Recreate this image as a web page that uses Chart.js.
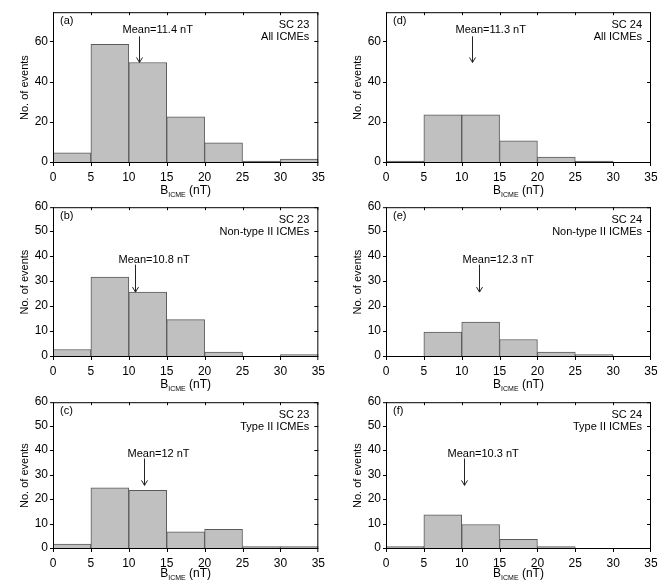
<!DOCTYPE html>
<html>
<head>
<meta charset="utf-8">
<script src="https://cdn.jsdelivr.net/npm/chart.js@4.4.0/dist/chart.umd.min.js"></script>
<style>
    body { margin: 0; background: #fff; }
    #wrap { position: relative; width: 665px; height: 584px; overflow: hidden; }
    canvas { position: absolute; }
</style>
</head>
<body>
<div id="wrap"></div>
<script>
// bins of 5 nT, drawn at their centres
var binCenters = [2.5, 7.5, 12.5, 17.5, 22.5, 27.5, 32.5];
var xTicks = [0, 5, 10, 15, 20, 25, 30, 35];
var yTicksTop = [0, 20, 40, 60];
var yTicksBottom = [0, 10, 20, 30, 40, 50, 60];

// number of events per bin
var sc23All = [5, 59, 50, 23, 10, 1, 2];
var sc23NonTypeII = [3, 32, 26, 15, 2, 0, 1];
var sc23TypeII = [2, 25, 24, 7, 8, 1, 1];
var sc24All = [1, 24, 24, 11, 3, 1, 0];
var sc24NonTypeII = [0, 10, 14, 7, 2, 1, 0];
var sc24TypeII = [1, 14, 10, 4, 1, 0, 0];

var panelLetters = ['(a)', '(b)', '(c)', '(d)', '(e)', '(f)'];
var cycleLabels = ['SC 23', 'SC 23', 'SC 23', 'SC 24', 'SC 24', 'SC 24'];
var groupLabels = ['All ICMEs', 'Non-type II ICMEs', 'Type II ICMEs', 'All ICMEs', 'Non-type II ICMEs', 'Type II ICMEs'];
var means = [11.4, 10.8, 12, 11.3, 12.3, 10.3];
var meanLabels = ['Mean=11.4 nT', 'Mean=10.8 nT', 'Mean=12 nT', 'Mean=11.3 nT', 'Mean=12.3 nT', 'Mean=10.3 nT'];

var series = [sc23All, sc23NonTypeII, sc23TypeII, sc24All, sc24NonTypeII, sc24TypeII];

// canvas boxes and plot areas (page pixels); canvases overlap a little so titles are not clipped
var boxes = [
    { cx: 0, cy: 0, cw: 332, ch: 204, l: 53, t: 12, r: 319, b: 163 },
    { cx: 0, cy: 195, cw: 332, ch: 200, l: 53, t: 205, r: 319, b: 357 },
    { cx: 0, cy: 390, cw: 332, ch: 194, l: 53, t: 398, r: 319, b: 549 },
    { cx: 333, cy: 0, cw: 332, ch: 204, l: 386, t: 12, r: 651, b: 163 },
    { cx: 333, cy: 195, cw: 332, ch: 200, l: 386, t: 205, r: 651, b: 357 },
    { cx: 333, cy: 390, cw: 332, ch: 194, l: 386, t: 398, r: 651, b: 549 }
];

var FONT = "'Liberation Sans', Arial, Helvetica, sans-serif";
Chart.defaults.font.family = FONT;
Chart.defaults.color = '#000';

var decor = {
    id: 'decor',
    afterDraw(chart) {
        var o = chart.options.plugins.decor;
        var ctx = chart.ctx;
        var a = chart.chartArea;
        var xs = chart.scales.x, ys = chart.scales.y;
        ctx.save();

        // frame; ticks point out on left/bottom, in on top/right
        ctx.strokeStyle = '#000';
        ctx.lineWidth = 1;
        ctx.strokeRect(a.left + 0.5, a.top + 0.5, a.right - a.left - 1, a.bottom - a.top - 1);
        ctx.beginPath();
        xTicks.forEach(function (v) {
            var px = Math.round(xs.getPixelForValue(v)) + 0.5;
            px = Math.min(Math.max(px, a.left + 0.5), a.right - 0.5);
            ctx.moveTo(px, a.top); ctx.lineTo(px, a.top + 3);
            ctx.moveTo(px, a.bottom); ctx.lineTo(px, a.bottom + 3);
        });
        o.yTicks.forEach(function (v) {
            var py = Math.round(ys.getPixelForValue(v)) - 0.5;
            py = Math.min(Math.max(py, a.top + 0.5), a.bottom - 0.5);
            ctx.moveTo(a.left, py); ctx.lineTo(a.left - 3, py);
            ctx.moveTo(a.right, py); ctx.lineTo(a.right - 4, py);
        });
        ctx.stroke();

        // labels inside the frame
        ctx.fillStyle = '#000';
        ctx.font = '11px ' + FONT;
        ctx.textBaseline = 'middle';
        ctx.textAlign = 'left';
        ctx.fillText(o.letter, a.left + 7, a.top + 9);
        ctx.textAlign = 'right';
        ctx.fillText(o.cycle, a.right - 9, a.top + 13);
        ctx.fillText(o.group, a.right - 9, a.top + 25);

        // mean label and arrow
        var ax = Math.round(xs.getPixelForValue(o.mean)) + 0.5;
        ctx.textAlign = 'left';
        ctx.fillText(o.meanText, ax - 17, ys.getPixelForValue(o.textY));
        var y0 = ys.getPixelForValue(o.arrowFrom);
        var y1 = ys.getPixelForValue(o.arrowTo);
        ctx.strokeStyle = '#222';
        ctx.beginPath();
        ctx.moveTo(ax, y0); ctx.lineTo(ax, y1);
        ctx.moveTo(ax - 3, y1 - 5); ctx.lineTo(ax, y1); ctx.lineTo(ax + 3, y1 - 5);
        ctx.stroke();

        // x title with subscript
        var cxm = (a.left + a.right) / 2;
        var ty = a.bottom + o.titleDy;
        ctx.textBaseline = 'alphabetic';
        ctx.font = '12px ' + FONT;
        var wB = ctx.measureText('B').width;
        var wP = ctx.measureText(' (nT)').width;
        ctx.font = '7px ' + FONT;
        var wS = ctx.measureText('ICME').width;
        var x0 = cxm - (wB + wS + wP) / 2;
        ctx.textAlign = 'left';
        ctx.font = '12px ' + FONT;
        ctx.fillText('B', x0, ty);
        ctx.font = '7px ' + FONT;
        ctx.fillText('ICME', x0 + wB, ty + 3);
        ctx.font = '12px ' + FONT;
        ctx.fillText(' (nT)', x0 + wB + wS, ty);
        ctx.restore();
    }
};

var wrap = document.getElementById('wrap');

series.forEach(function (vals, i) {
    var bx = boxes[i];
    var top = (i % 3) === 0;
    var yMax = top ? 75 : 60;
    var yTicks = top ? yTicksTop : yTicksBottom;

    var cv = document.createElement('canvas');
    cv.width = bx.cw; cv.height = bx.ch;
    cv.style.left = bx.cx + 'px';
    cv.style.top = bx.cy + 'px';
    wrap.appendChild(cv);

    var yW = bx.l - bx.cx;
    var xH = bx.cy + bx.ch - bx.b;

    new Chart(cv, {
        type: 'bar',
        data: {
            datasets: [{
                data: binCenters.map(function (c, k) { return { x: c, y: vals[k] }; }),
                backgroundColor: '#c0c0c0',
                borderColor: '#5a5a5a',
                borderWidth: 1,
                barPercentage: 1,
                categoryPercentage: 1
            }]
        },
        options: {
            responsive: false,
            animation: false,
            layout: { padding: { left: 0, top: bx.t - bx.cy, right: bx.cx + bx.cw - bx.r, bottom: 0 } },
            plugins: {
                legend: { display: false },
                tooltip: { enabled: false },
                decor: {
                    letter: panelLetters[i],
                    cycle: cycleLabels[i],
                    group: groupLabels[i],
                    mean: means[i],
                    meanText: meanLabels[i],
                    textY: top ? 66 : 39,
                    arrowFrom: top ? 63 : 37,
                    arrowTo: top ? 50 : 26,
                    yTicks: yTicks,
                    titleDy: (i % 3) === 2 ? 28 : 31
                }
            },
            scales: {
                x: {
                    type: 'linear', min: 0, max: 35, offset: false,
                    afterBuildTicks: function (s) { s.ticks = xTicks.map(function (v) { return { value: v }; }); },
                    afterFit: function (s) { s.height = xH; },
                    grid: { display: false, drawTicks: false, offset: false },
                    border: { display: false },
                    ticks: { font: { size: 12 }, padding: 7, maxRotation: 0, autoSkip: false }
                },
                y: {
                    min: 0, max: yMax,
                    afterBuildTicks: function (s) { s.ticks = yTicks.map(function (v) { return { value: v }; }); },
                    afterFit: function (s) { s.width = yW; },
                    grid: { display: false, drawTicks: false },
                    border: { display: false },
                    ticks: { font: { size: 12 }, padding: 5, labelOffset: -1 },
                    title: { display: true, text: 'No. of events', font: { size: 11 }, padding: { top: 18, bottom: 0 } }
                }
            }
        },
        plugins: [decor]
    });
});
</script>
</body>
</html>
